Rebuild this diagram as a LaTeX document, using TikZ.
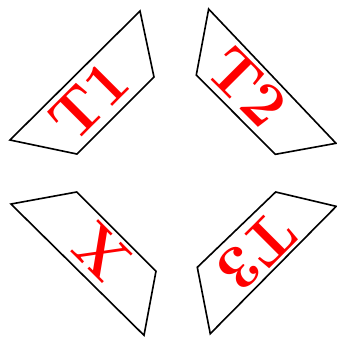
\documentclass[tikz,border=0pt]{standalone}
\begin{document}
\begin{tikzpicture}[font=\fontsize{23}{27}\selectfont\bfseries, semithick]
\useasboundingbox (0,0) rectangle (4.395,4.408);
\draw (1.826,4.264) -- (2.008,3.404) -- (1.004,2.399) -- (0.130,2.582) -- cycle;
\draw (2.721,4.290) -- (2.560,3.430) -- (3.590,2.395) -- (4.382,2.539) -- cycle;
\draw (3.595,1.904) -- (4.385,1.717) -- (2.742,0.056) -- (2.573,0.922) -- cycle;
\draw (0.143,1.747) -- (1.000,1.904) -- (2.034,0.870) -- (1.878,0.035) -- cycle;
\node[red, rotate=45] (t1) at (1.161,3.104) {T1};
\node[red, rotate=-45] (t2) at (3.234,3.277) {T2};
\node[red, rotate=225] (t3) at (3.352,1.128) {T3};
\node[red, rotate=135] (x) at (1.311,1.121) {X};
\end{tikzpicture}
\end{document}
